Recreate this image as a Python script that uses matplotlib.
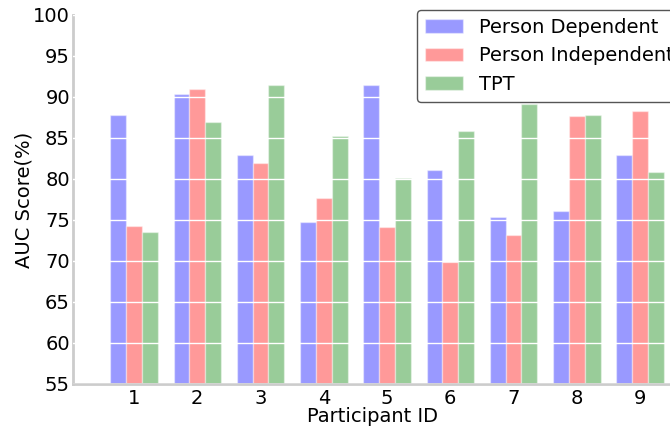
import numpy as np
import matplotlib.pyplot as plt

participants = [1, 2, 3, 4, 5, 6, 7, 8, 9]
person_dependent = [87.8, 90.4, 82.9, 74.8, 91.4, 81.1, 75.4, 76.1, 82.9]
person_independent = [74.3, 91.0, 81.9, 77.7, 74.2, 69.9, 73.2, 87.7, 88.3]
tpt = [73.5, 86.9, 91.4, 85.2, 80.1, 85.8, 89.1, 87.8, 80.9]

fig = plt.figure(figsize=(6.7, 4.28), dpi=100)
ax = fig.add_axes([0.1085, 0.103, 0.894, 0.862])

x = np.array(participants)
w = 0.25
ax.bar(x - w, person_dependent, w, color="blue", alpha=0.4, edgecolor="white",
       linewidth=1, label="Person Dependent")
ax.bar(x, person_independent, w, color="red", alpha=0.4, edgecolor="white",
       linewidth=1, label="Person Independent")
ax.bar(x + w, tpt, w, color="green", alpha=0.4, edgecolor="white",
       linewidth=1, label="TPT")

ax.set_xlim(0.03, 9.5)
ax.set_ylim(55, 100)
ax.set_xticks(participants)
ax.set_yticks(range(55, 101, 5))
ax.tick_params(axis="x", length=0, labelsize=14, pad=4)
ax.tick_params(axis="y", length=0, labelsize=14, pad=2)
ax.set_xlabel("Participant ID", fontsize=14, labelpad=-1)
ax.set_ylabel("AUC Score(%)", fontsize=14, labelpad=0)

# white grid drawn on top of bars
ax.set_axisbelow(False)
ax.yaxis.grid(True, color="white", linewidth=1)
for s in ["top", "right"]:
    ax.spines[s].set_visible(False)
for s in ["left", "bottom"]:
    ax.spines[s].set_color("#cccccc")
    ax.spines[s].set_linewidth(2)

leg = fig.legend(loc="upper left", bbox_to_anchor=(0.622, 0.977), borderaxespad=0,
                 fontsize=14, handlelength=2.0, handletextpad=0.8, fancybox=True,
                 framealpha=1)
leg.get_frame().set_edgecolor("#555555")

fig.savefig("out.png", dpi=100)
